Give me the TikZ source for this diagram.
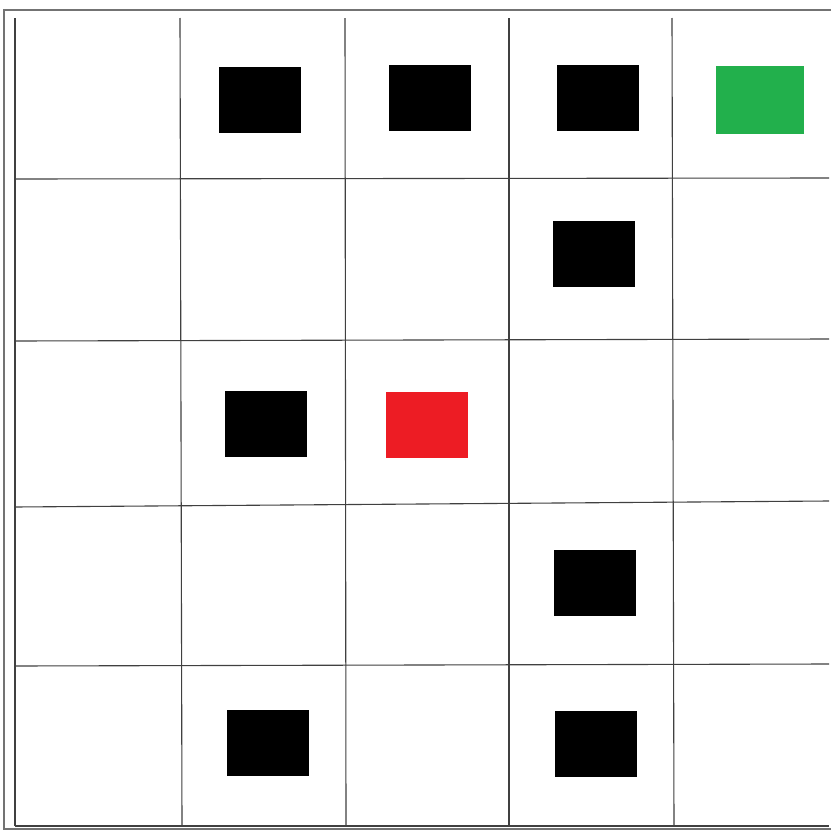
\documentclass[tikz,border=0pt]{standalone}
\begin{document}
\begin{tikzpicture}[x=1pt,y=-1pt,
  gridline/.style={draw=black!75,line width=1.1pt},
  block/.style={draw=none,minimum width=82pt,minimum height=66pt,inner sep=0pt,outer sep=0pt},
  blk/.style={block,fill=black},
  goal/.style={block,minimum width=88pt,minimum height=68pt,fill={rgb,255:red,34;green,176;blue,76}},
  start/.style={block,fill={rgb,255:red,237;green,28;blue,36}}]
\useasboundingbox (0,0) rectangle (831,830);
\fill[white] (0,0) rectangle (831,830);
% outer frame
\draw[black!55,line width=2pt] (4,830) -- (4,10) -- (832,10);
\draw[black!55,line width=1.5pt] (4,829) -- (831,829);
% vertical grid lines
\draw[gridline,line width=1.6pt] (15,18) -- (15,826);
\draw[gridline] (180,18) -- (182,826);
\draw[gridline] (345,18) -- (346,826);
\draw[gridline] (509,18) -- (509,826);
\draw[gridline] (672,18) -- (674,826);
% horizontal grid lines
\draw[gridline] (15,179) -- (829,178);
\draw[gridline] (15,341) -- (829,339);
\draw[gridline] (15,507) -- (829,501);
\draw[gridline] (15,666) -- (829,664);
\draw[gridline] (15,826) -- (829,826);
% blocks
\node[blk] (b1) at (260,100) {};
\node[blk] (b2) at (430,98) {};
\node[blk] (b3) at (598,98) {};
\node[goal] (g) at (759.5,100) {};
\node[blk] (b4) at (594,254) {};
\node[blk] (b5) at (266,424) {};
\node[start] (s) at (427,425) {};
\node[blk] (b6) at (595,583) {};
\node[blk] (b7) at (268,743) {};
\node[blk] (b8) at (596,744) {};
\end{tikzpicture}
\end{document}
